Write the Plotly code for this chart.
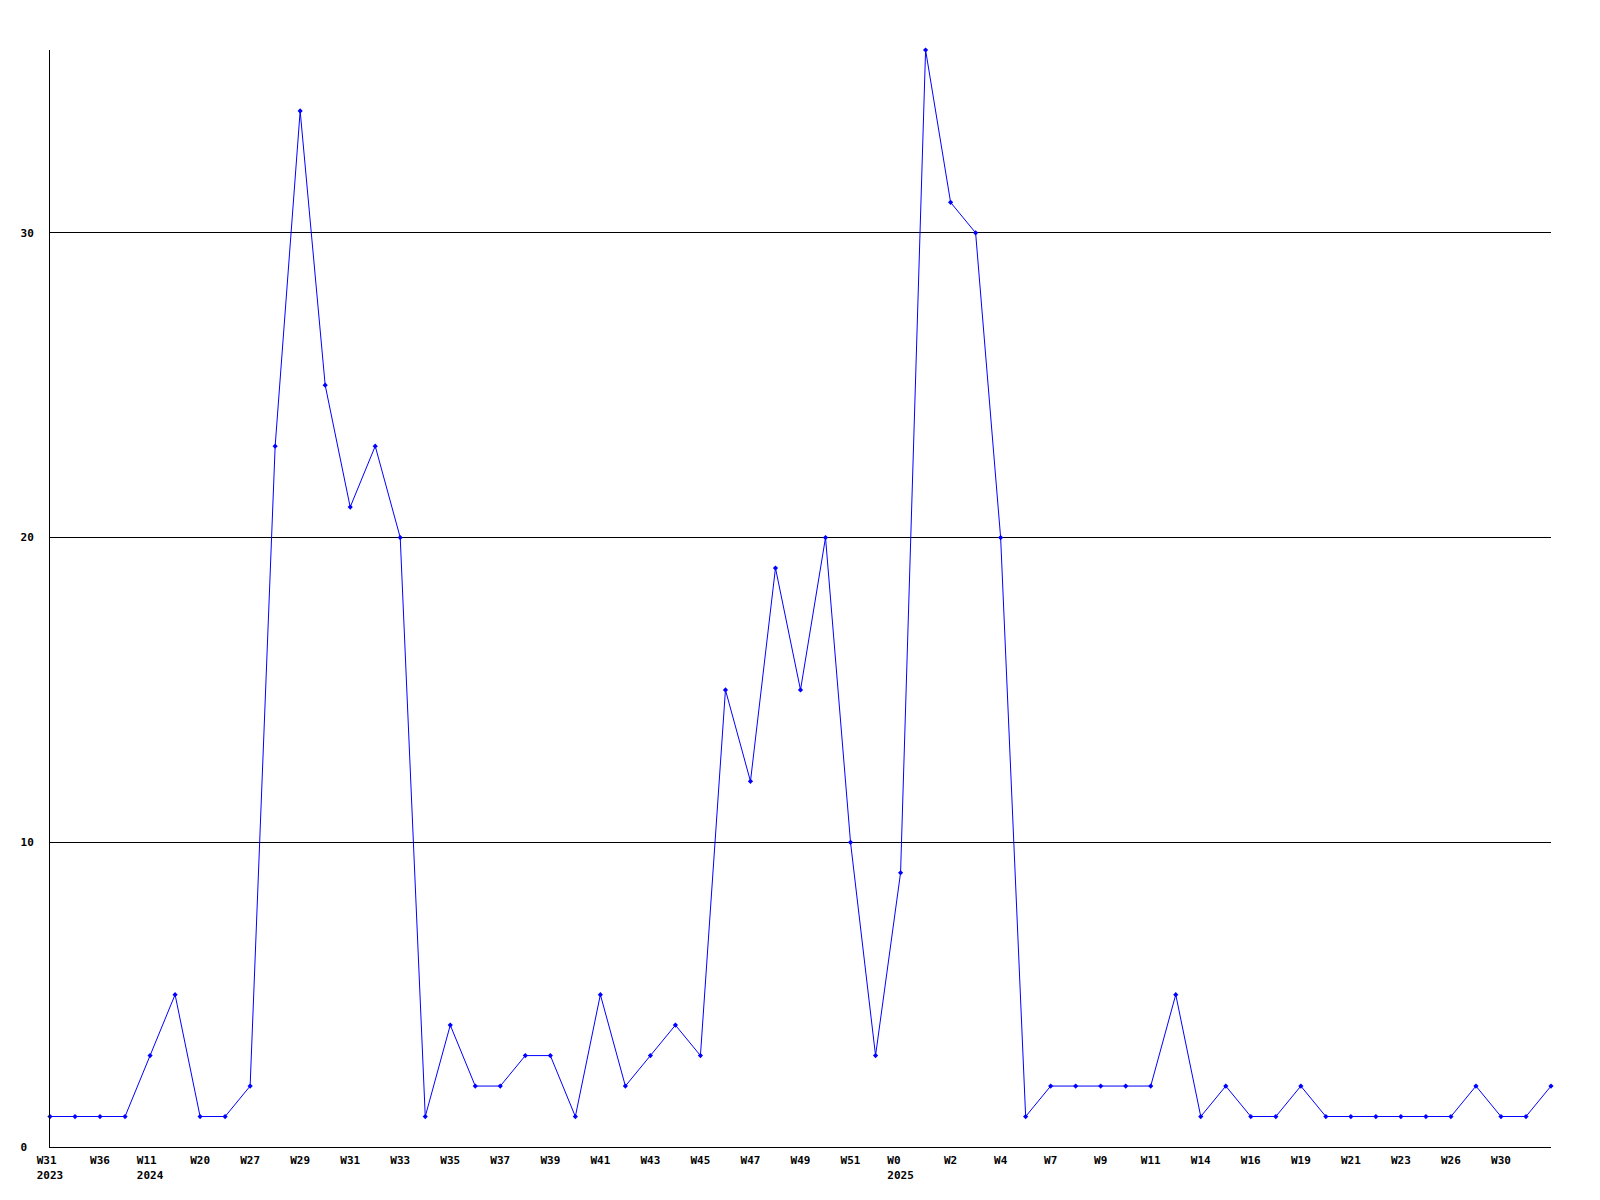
import plotly.graph_objects as go

values = [1, 1, 1, 1, 3, 5, 1, 1, 2, 23, 34, 25, 21, 23, 20, 1, 4, 2, 2, 3, 3, 1, 5, 2, 3, 4, 3,
          15, 12, 19, 15, 20, 10, 3, 9, 36, 31, 30, 20, 1, 2, 2, 2, 2, 2, 5, 1, 2, 1, 1, 2, 1,
          1, 1, 1, 1, 1, 2, 1, 1, 2]
tick_labels = ["W31<br>2023", "W36", "W11<br>2024", "W20", "W27", "W29", "W31", "W33", "W35",
               "W37", "W39", "W41", "W43", "W45", "W47", "W49", "W51", "W0<br>2025", "W2",
               "W4", "W7", "W9", "W11", "W14", "W16", "W19", "W21", "W23", "W26", "W30"]
y_ticks = [0, 10, 20, 30]

x = list(range(len(values)))


def left_align(lbl):
    parts = lbl.split("<br>")
    w = max(len(p) for p in parts)
    return "<br>".join(p + "&nbsp;" * (w - len(p)) for p in parts)


fig = go.Figure()
fig.add_trace(go.Scatter(
    x=x, y=values, mode="lines+markers",
    line=dict(color="#0000ff", width=1),
    marker=dict(symbol="diamond", size=4, color="#0000ff"),
    cliponaxis=False,
))

fig.update_layout(
    width=1584, height=1186,
    margin=dict(l=42, r=41, t=42, b=42),
    paper_bgcolor="white", plot_bgcolor="white",
    showlegend=False,
    font=dict(family="DejaVu Sans Mono", size=11, color="black"),
)
fig.update_xaxes(
    range=[0, len(values) - 1],
    tickmode="array",
    tickvals=x[::2][:len(tick_labels)],
    ticktext=[left_align(t) for t in tick_labels],
    showgrid=False, zeroline=False,
    showline=True, linecolor="black", linewidth=1,
    ticks="", ticklabelstandoff=3,
    tickfont=dict(family="DejaVu Sans Mono", size=11, weight="bold"),
)
fig.update_yaxes(
    range=[0, 36],
    tickmode="array",
    tickvals=y_ticks,
    ticktext=[str(v) + "&nbsp;" * (2 - len(str(v))) for v in y_ticks],
    showgrid=True, gridcolor="black", gridwidth=1,
    zeroline=False,
    showline=True, linecolor="black", linewidth=1,
    ticks="", ticklabelstandoff=13,
    tickfont=dict(family="DejaVu Sans Mono", size=11, weight="bold"),
)

fig.write_html("out.html")
